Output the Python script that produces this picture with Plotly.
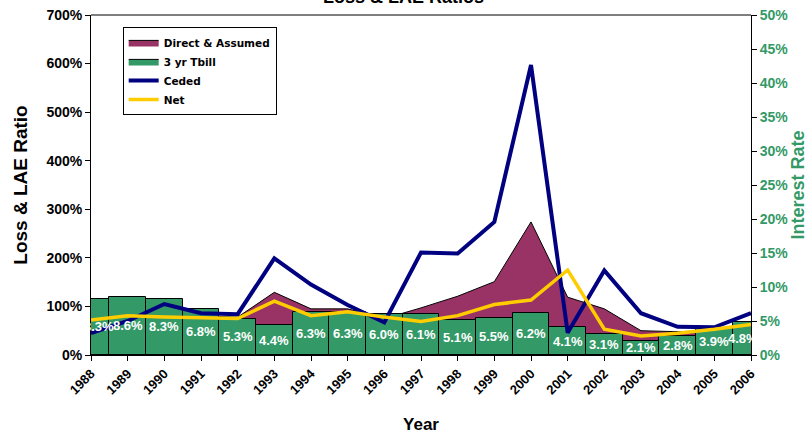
import plotly.graph_objects as go

# Calendar years on the category axis
years = list(range(1988, 2007))

# Loss & LAE ratios, in percent
direct_assumed = [75, 80, 85, 80, 78, 129, 95, 95, 75, 97, 121, 151, 274, 119, 95, 50, 48, 50, 55]
ceded = [45, 70, 105, 86, 84, 199, 145, 103, 67, 211, 209, 274, 597, 46, 174, 86, 58, 57, 86]
net = [72, 81, 78, 77, 75, 111, 81, 89, 78, 69, 81, 104, 113, 175, 53, 39, 45, 53, 63]

# 3-year Treasury bill rate, in percent
tbill = [8.3, 8.6, 8.3, 6.8, 5.3, 4.4, 6.3, 6.3, 6.0, 6.1, 5.1, 5.5, 6.2, 4.1, 3.1, 2.1, 2.8, 3.9, 4.8]

FONT = "Arial, Liberation Sans, sans-serif"
LEGEND_FONT = "DejaVu Sans, Arial, sans-serif"
GREEN = "#339966"
MAROON = "#993366"

fig = go.Figure()

fig.add_trace(go.Scatter(
    x=years, y=[v / 100 for v in direct_assumed], name="Direct & Assumed",
    mode="lines", fill="tozeroy", fillcolor=MAROON,
    line=dict(color="black", width=1), yaxis="y",
))

fig.add_trace(go.Bar(
    x=years, y=[v / 100 for v in tbill], name="3 yr Tbill", width=1,
    marker=dict(color=GREEN, line=dict(color="black", width=1)), yaxis="y2",
    showlegend=False,
))

# Legend entry for the bars, drawn as a wide swatch like the area entry
fig.add_trace(go.Scatter(
    x=[None], y=[None], name="3 yr Tbill", mode="lines", fill="tozeroy",
    fillcolor=GREEN, line=dict(color="black", width=1), yaxis="y2",
))

fig.add_trace(go.Scatter(
    x=years, y=[v / 100 for v in ceded], name="Ceded", mode="lines",
    line=dict(color="#000080", width=4), yaxis="y3",
))

fig.add_trace(go.Scatter(
    x=years, y=[v / 100 for v in net], name="Net", mode="lines",
    line=dict(color="#FFCC00", width=3.5), yaxis="y3",
))

# Value labels centred in each bar (end bars are half hidden by the axes)
annotations = []
for i, (yr, v) in enumerate(zip(years, tbill)):
    shift = 0
    if i == 0:
        shift = 8
    elif i == len(years) - 1:
        shift = -8
    annotations.append(dict(
        x=yr, y=v / 200, xref="x", yref="y2", text=f"{v:.1f}%", showarrow=False,
        xshift=shift, font=dict(family=FONT, size=13, color="white", weight="bold"),
    ))

annotations.append(dict(
    x=0.474, y=1, xref="paper", yref="paper", yanchor="bottom", yshift=6,
    text="Loss & LAE Ratios", showarrow=False,
    font=dict(family=FONT, size=18, color="black", weight="bold"),
))

fig.update_layout(
    width=811, height=434,
    margin=dict(l=91, r=60, t=15, b=79),
    paper_bgcolor="white", plot_bgcolor="white",
    font=dict(family=FONT, color="black"),
    bargap=0,
    annotations=annotations,
    showlegend=True,
    legend=dict(
        x=0.048, y=0.965, xanchor="left", yanchor="top",
        bgcolor="white", bordercolor="black", borderwidth=1,
        font=dict(family=LEGEND_FONT, size=10.5, color="black", weight="bold"),
        itemwidth=30, tracegroupgap=0, entrywidth=150,
    ),
    xaxis=dict(
        range=[1988, 2006], tickmode="array", tickvals=years,
        ticktext=[str(y) for y in years], tickangle=-45,
        ticks="outside", ticklen=5, tickcolor="black",
        showline=True, linecolor="black", linewidth=1, mirror=False,
        showgrid=False, zeroline=False, automargin=False,
        tickfont=dict(family=FONT, size=13, color="black", weight="bold"),
        title=dict(text="Year", standoff=23,
                   font=dict(family=FONT, size=17, color="black", weight="bold")),
    ),
    yaxis=dict(
        range=[0, 7], dtick=1, tickformat=".0%",
        ticks="outside", ticklen=5, tickcolor="black",
        showline=True, linecolor="black", linewidth=1,
        showgrid=False, zeroline=False, automargin=False,
        tickfont=dict(family=FONT, size=14, color="black", weight="bold"),
        title=dict(text="Loss & LAE Ratio", standoff=13,
                   font=dict(family=FONT, size=19, color="black", weight="bold")),
    ),
    yaxis2=dict(
        range=[0, 0.5], dtick=0.05, tickformat=".0%",
        overlaying="y", side="right",
        ticks="outside", ticklen=5, tickcolor="black",
        showline=True, linecolor="black", linewidth=1,
        showgrid=False, zeroline=False, automargin=False,
        tickfont=dict(family=FONT, size=14, color=GREEN, weight="bold"),
        title=dict(text="Interest Rate", standoff=2,
                   font=dict(family=FONT, size=18, color=GREEN, weight="bold")),
    ),
    yaxis3=dict(
        range=[0, 7], overlaying="y", visible=False,
    ),
)

# Frame along the top of the plotting area
fig.add_shape(type="line", xref="paper", yref="paper", x0=0, x1=1, y0=1, y1=1,
              line=dict(color="black", width=1))

fig.write_html("out.html")
